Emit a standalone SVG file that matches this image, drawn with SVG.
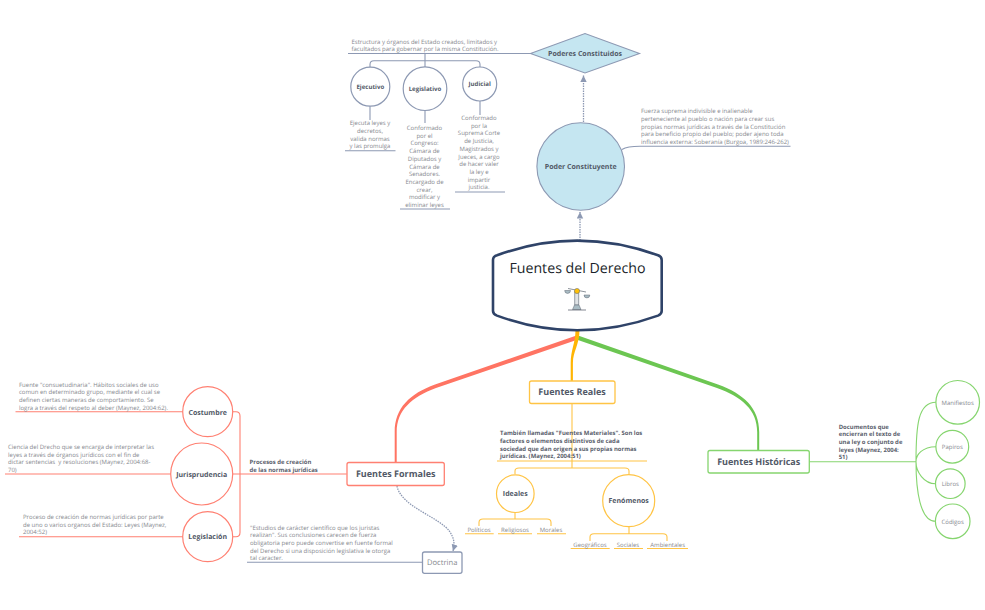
<svg xmlns="http://www.w3.org/2000/svg" width="985" height="610" viewBox="0 0 985 610">
<defs>
<marker id="arr" markerWidth="8" markerHeight="8" refX="6.5" refY="3.5" orient="auto" markerUnits="userSpaceOnUse"><path d="M0,0.3 L6.5,3.5 L0,6.7 Z" fill="#8d99b3"/></marker>
</defs>
<style>
text{font-family:"Open Sans","Liberation Sans",sans-serif;text-rendering:geometricPrecision}
.t{font-size:6px;fill:#85888e}
.c{font-size:6px;fill:#85888e;text-anchor:middle}
.b{font-size:5.95px;fill:#5a606c;font-weight:700}
.n{fill:#525967;font-weight:700;text-anchor:middle}
.box{fill:#fff;stroke-width:1.3}
.circ{fill:#fff;stroke-width:1.2}
.gy{stroke:#8d99b3}.rd{stroke:#ff8072}.or{stroke:#ffc445}.gr{stroke:#86d56f}
.l{fill:none;stroke-width:1.1}
</style>
<rect width="985" height="610" fill="#fff"/>
<g id="connectors">
<path d="M348,53.5H531" class="l gy"/>
<path d="M425,53.5V67M370,67V64.5Q370,60.7 374,60.7H476Q480,60.7 480,64.5V67M370,106V120M425,110.5V123M480,101V115" class="l gy"/>
<path d="M345,150.7H395.5M400,209H450M455,192H505" class="l gy"/>
<path d="M622,149.5C627,146.5 632,146.3 640,146.3H790.5" class="l gy"/>
<path d="M580,243V212" fill="none" stroke="#8d99b3" stroke-width="1.3" stroke-dasharray="1.5 1" marker-end="url(#arr)"/>
<path d="M583.5,122V75.5" fill="none" stroke="#8d99b3" stroke-width="1.3" stroke-dasharray="1.5 1" marker-end="url(#arr)"/>
<path d="M397,486C401,507 440,517 450,532C454,538 455,544 453,551" fill="none" stroke="#8d99b3" stroke-width="1.3" stroke-dasharray="1.5 1" marker-end="url(#arr)"/>
<path d="M576.5,335.5L435,384.5C410,393.5 394.7,408 394.7,432V463H396.7V432C396.7,410 412,397 436,388L578,339.5Z" fill="#ff7463"/>
<path d="M578,335.5L718,384.5C744,394 759.2,408 759.2,432V451H757.2V432C757.2,410 742,397 717,388L576.5,339.5Z" fill="#6cc652"/>
<path d="M575.5,330C575.5,343 570.7,350 570.7,363V381H572.9V363C572.9,351 579.5,345 579.5,330Z" fill="#ffb504"/>
<path d="M572,403V461" class="l or" stroke-width="1.3"/>
<path d="M497,461H647M572,461V468M515,474V471Q515,468 519,468H625Q629,468 629,471V475" class="l or"/>
<path d="M515,512.5V519M479,526V522.5Q479,519 483,519H547Q551,519 551,522.5V526M465,533.7H493.7M498,533.7H532M537,533.7H566" class="l or"/>
<path d="M629,526V533.7M590,541V537Q590,533.7 594,533.7H663Q667,533.7 667,537V541M570.7,548.5H609.7M614,548.5H643M647,548.5H688" class="l or"/>
<path d="M232,411.7H236Q240,411.7 240,416V532.5Q240,536.7 236,536.7H232M232,474H346.7" class="l rd"/>
<path d="M15.5,411.7H183M5,474H171M19,536.7H183" class="l rd"/>
<path d="M247,562.3H422.5" class="l gy"/>
<path d="M809,461.7H916" class="l gr"/>
<path d="M916,461.7C916,425 918,402.3 936,402.3M916,461.7C916,455 922,446.7 936,446.7M916,461.7C916,472 924,483.7 935.5,483.7M916,461.7C916,490 920,521.3 935.5,521.3" class="l gr"/>
</g>
<g id="poderes-constituidos">
<path d="M530.5,53.5L585,33.5L639.5,53.5L585,73Z" fill="#c5e6f1" stroke="#8d99b3" stroke-width="1.1"/>
<text x="585" y="56.3" class="n" font-size="7">Poderes Constituidos</text>
<text x="351.5" y="43.5" class="t">Estructura y órganos del Estado creados, limitados y</text>
<text x="351.5" y="51.3" class="t">facultados para gobernar por la misma Constitución.</text>
</g>
<g id="ejecutivo">
<circle cx="370.3" cy="86.7" r="19.5" class="circ gy"/>
<text x="370.3" y="88.8" class="n" font-size="6.1">Ejecutivo</text>
<text class="c"><tspan x="370" y="125">Ejecuta leyes y</tspan><tspan x="370" y="132.8">decretos,</tspan><tspan x="370" y="140.6">valida normas</tspan><tspan x="370" y="148.4">y las promulga</tspan></text>
</g>
<g id="legislativo">
<circle cx="425" cy="88.7" r="21.8" class="circ gy"/>
<text x="425" y="91" class="n" font-size="6.1">Legislativo</text>
<text class="c"><tspan x="424.5" y="130">Conformado</tspan><tspan x="424.5" y="137.7">por el</tspan><tspan x="424.5" y="145.4">Congreso:</tspan><tspan x="424.5" y="153.1">Cámara de</tspan><tspan x="424.5" y="160.8">Diputados y</tspan><tspan x="424.5" y="168.5">Cámara de</tspan><tspan x="424.5" y="176.2">Senadores.</tspan><tspan x="424.5" y="183.9">Encargado de</tspan><tspan x="424.5" y="191.6">crear,</tspan><tspan x="424.5" y="199.3">modificar y</tspan><tspan x="424.5" y="207">eliminar leyes</tspan></text>
</g>
<g id="judicial">
<circle cx="479.7" cy="84" r="17" class="circ gy"/>
<text x="479.7" y="86" class="n" font-size="6.1">Judicial</text>
<text class="c"><tspan x="479" y="120">Conformado</tspan><tspan x="479" y="127.7">por la</tspan><tspan x="479" y="135.4">Suprema Corte</tspan><tspan x="479" y="143.1">de Justicia,</tspan><tspan x="479" y="150.8">Magistrados y</tspan><tspan x="479" y="158.5">Jueces, a cargo</tspan><tspan x="479" y="166.2">de hacer valer</tspan><tspan x="479" y="173.9">la ley e</tspan><tspan x="479" y="181.6">impartir</tspan><tspan x="479" y="189.3">justicia.</tspan></text>
</g>
<g id="poder-constituyente">
<circle cx="580.7" cy="166.5" r="43.8" fill="#c5e6f1" stroke="#8d99b3" stroke-width="1.1"/>
<text x="580.7" y="169.2" class="n" font-size="7">Poder Constituyente</text>
<text class="t"><tspan x="641" y="113">Fuerza suprema indivisible e inalienable</tspan><tspan x="641" y="120.8">perteneciente al pueblo o nación para crear sus</tspan><tspan x="641" y="128.5">propias normas jurídicas a través de la Constitución</tspan><tspan x="641" y="136.2">para beneficio propio del pueblo; poder ajeno toda</tspan><tspan x="641" y="143.9">influencia externa: Soberanía (Burgoa, 1989:246-262)</tspan></text>
</g>
<g id="fuentes-del-derecho">
<path d="M497,255.3Q577,226 658,255.3Q661.7,256.6 661.7,260V311Q661.7,314 658,315.6Q577,345 497,315.6Q493,314 493,311V260Q493,256.6 497,255.3Z" fill="#fff" stroke="#2f4368" stroke-width="2.6"/>
<text x="577.5" y="272.5" text-anchor="middle" fill="#1a1f2a" font-weight="500" style="font-size:14.2px">Fuentes del Derecho</text>
<path d="M568,288.5L586,292" stroke="#5d6570" stroke-width="0.7" fill="none"/>
<path d="M574.7,291.5H578.7V305H574.7Z" fill="#dfe3e6" stroke="#5d6570" stroke-width="0.6"/>
<path d="M572.5,309.5L574.5,305H579L581,309.5Z" fill="#a9bcc4" stroke="#5d6570" stroke-width="0.5"/>
<path d="M568,310H586" stroke="#4d5462" stroke-width="0.7"/>
<path d="M564.7,290.5A2.9,2.9 0 0 0 570.5,290.5Z" fill="#a9bcc4" stroke="#5d6570" stroke-width="0.5"/>
<path d="M584,295A2.9,2.9 0 0 0 589.8,295Z" fill="#a9bcc4" stroke="#5d6570" stroke-width="0.5"/>
<circle cx="577" cy="291" r="2.6" fill="#ffc107" stroke="#5d6570" stroke-width="0.5"/>
</g>
<g id="fuentes-reales">
<rect x="529.5" y="381" width="85.5" height="22.5" rx="2" class="box or"/>
<text x="572" y="395.3" class="n" font-size="9">Fuentes Reales</text>
<text class="b"><tspan x="500" y="435.3">También llamadas "Fuentes Materiales". Son los</tspan><tspan x="500" y="443">factores o elementos distintivos de cada</tspan><tspan x="500" y="450.7">sociedad que dan origen a sus propias normas</tspan><tspan x="500" y="458.4">jurídicas. (Maynez, 2004:51)</tspan></text>
</g>
<g id="ideales">
<circle cx="515.3" cy="493.7" r="18.8" class="circ or"/>
<text x="515.3" y="496.2" class="n" font-size="7">Ideales</text>
<text x="479" y="531.5" class="c">Políticos</text>
<text x="515" y="531.5" class="c">Religiosos</text>
<text x="551" y="531.5" class="c">Morales</text>
</g>
<g id="fenomenos">
<circle cx="628.7" cy="500.7" r="26" class="circ or"/>
<text x="628.7" y="503.3" class="n" font-size="7">Fenómenos</text>
<text x="590" y="546.5" class="c">Geográficos</text>
<text x="628" y="546.5" class="c">Sociales</text>
<text x="667.7" y="546.5" class="c">Ambientales</text>
</g>
<g id="fuentes-formales">
<rect x="347" y="462.5" width="97.3" height="23" rx="2" class="box rd"/>
<text x="395.7" y="477" class="n" font-size="9">Fuentes Formales</text>
<text class="b"><tspan x="249.5" y="464.2">Procesos de creación</tspan><tspan x="249.5" y="471.9">de las normas jurídicas</tspan></text>
</g>
<g id="costumbre">
<circle cx="207.7" cy="411.7" r="25" class="circ rd"/>
<text x="207.7" y="414.5" class="n" font-size="7">Costumbre</text>
<text class="t"><tspan x="19" y="386.5">Fuente "consuetudinaria". Hábitos sociales de uso</tspan><tspan x="19" y="394.2">comun en determinado grupo, mediante el cual se</tspan><tspan x="19" y="401.9">definen ciertas maneras de comportamiento. Se</tspan><tspan x="19" y="409.6">logra a través del respeto al deber (Maynez, 2004:62).</tspan></text>
</g>
<g id="jurisprudencia">
<circle cx="201.7" cy="474" r="31" class="circ rd"/>
<text x="201.7" y="476.7" class="n" font-size="7">Jurisprudencia</text>
<text class="t"><tspan x="8" y="449">Ciencia del Drecho que se encarga de interpretar las</tspan><tspan x="8" y="456.7">leyes a través de órganos jurídicos con el fin de</tspan><tspan x="8" y="464.4" xml:space="preserve">dictar sentencias  y resoluciones (Maynez, 2004:68-</tspan><tspan x="8" y="472.1">70)</tspan></text>
</g>
<g id="legislacion">
<circle cx="207.7" cy="536.7" r="25" class="circ rd"/>
<text x="207.7" y="539.4" class="n" font-size="7">Legislación</text>
<text class="t"><tspan x="23" y="518.8">Proceso de creación de normas jurídicas por parte</tspan><tspan x="23" y="526.5">de uno o varios organos del Estado: Leyes (Maynez,</tspan><tspan x="23" y="534.2">2004:52)</tspan></text>
</g>
<g id="doctrina">
<rect x="422.5" y="552" width="39.5" height="21.3" rx="2" class="box gy"/>
<text x="442.2" y="565.3" class="c" style="font-size:7.6px">Doctrina</text>
<text class="t"><tspan x="250" y="529.5">"Estudios de carácter científico que los juristas</tspan><tspan x="250" y="537.2">realizan". Sus conclusiones carecen de fuerza</tspan><tspan x="250" y="544.9">obligatoria pero puede convertise en fuente formal</tspan><tspan x="250" y="552.6">del Derecho si una disposición legislativa le otorga</tspan><tspan x="250" y="560.3">tal caracter.</tspan></text>
</g>
<g id="fuentes-historicas">
<rect x="708" y="450.5" width="101.3" height="22.5" rx="2" class="box gr"/>
<text x="758.7" y="465" class="n" font-size="9">Fuentes Históricas</text>
<text class="b"><tspan x="838.7" y="428.5">Documentos que</tspan><tspan x="838.7" y="436.2">encierran el texto de</tspan><tspan x="838.7" y="443.9">una ley o conjunto de</tspan><tspan x="838.7" y="451.6">leyes (Maynez, 2004:</tspan><tspan x="838.7" y="459.3">51)</tspan></text>
</g>
<g id="manifiestos"><circle cx="957.7" cy="402.3" r="21.8" class="circ gr"/><text x="957.7" y="404.6" class="c">Manifiestos</text></g>
<g id="papiros"><circle cx="952.3" cy="446.7" r="16.4" class="circ gr"/><text x="952.3" y="449" class="c">Papiros</text></g>
<g id="libros"><circle cx="950.3" cy="483.7" r="14.8" class="circ gr"/><text x="950.3" y="486" class="c">Libros</text></g>
<g id="codigos"><circle cx="952.7" cy="521.3" r="17.3" class="circ gr"/><text x="952.7" y="523.6" class="c">Códigos</text></g>
</svg>
